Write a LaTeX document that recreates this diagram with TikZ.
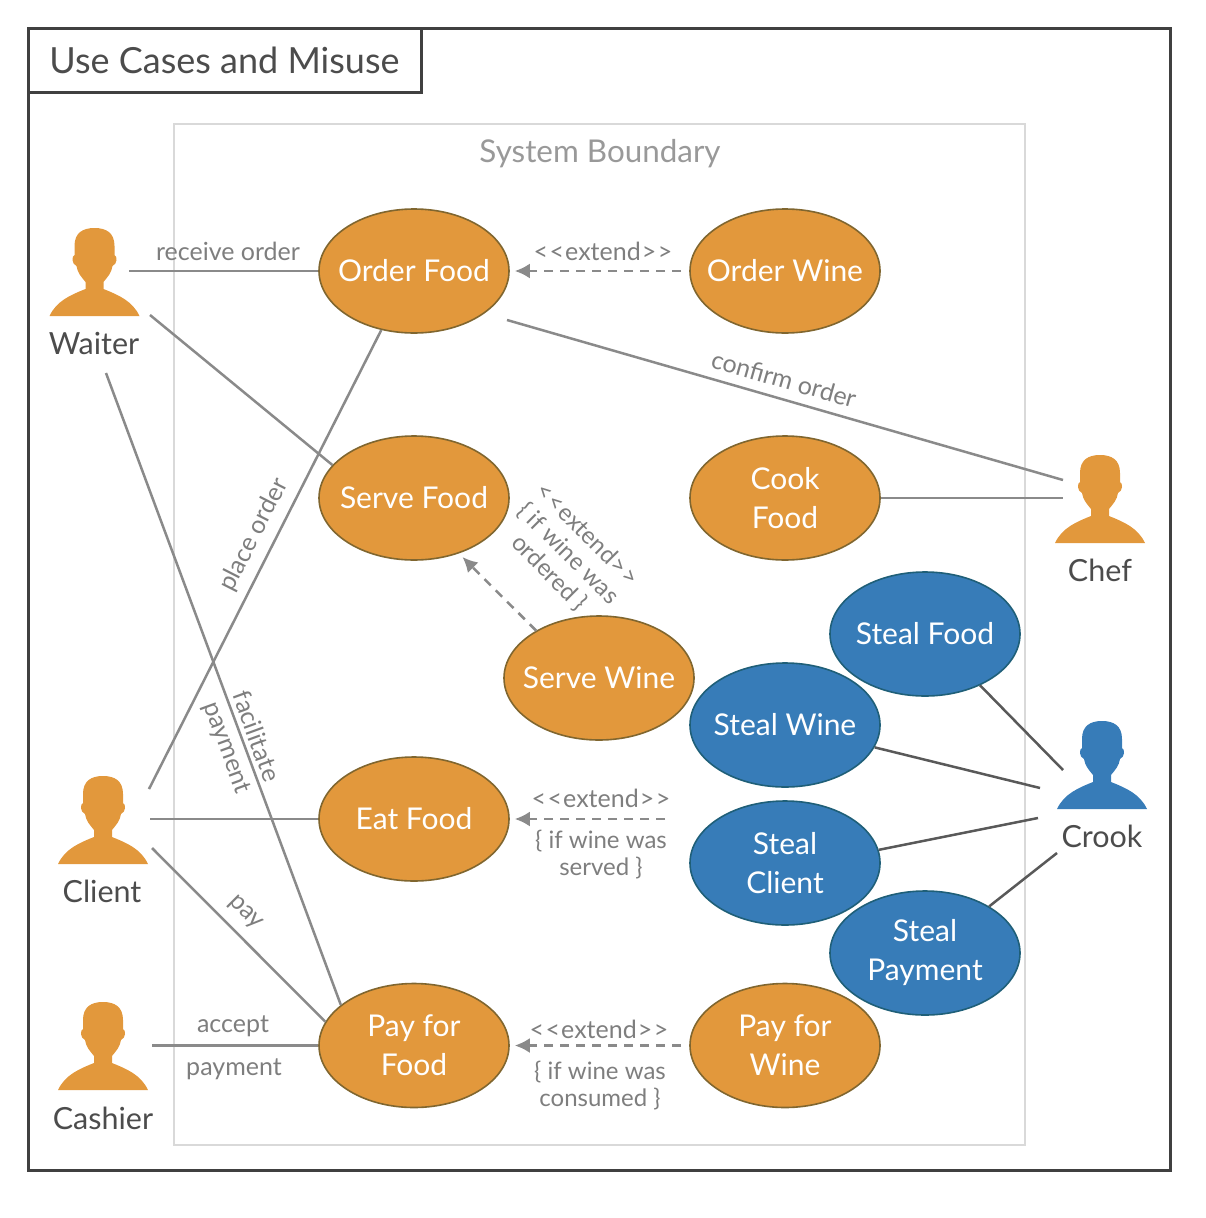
\documentclass[tikz,border=0pt]{standalone}
\usepackage{fontspec}
\setmainfont{Lato}
\usetikzlibrary{shapes.geometric,arrows.meta}
\definecolor{foodorange}{HTML}{E2983C}
\definecolor{foodedge}{HTML}{80662F}
\definecolor{crookblue}{HTML}{377CB8}
\definecolor{crookedge}{HTML}{1F5F78}
\definecolor{linegray}{HTML}{8A8A8A}
\definecolor{textgray}{HTML}{7E7E7E}
\tikzset{
  usecase/.style={ellipse,draw=foodedge,fill=foodorange,line width=1.6pt,minimum width=190pt,minimum height=124pt,inner sep=-12pt,
    text=white,font=\fontsize{30}{39}\selectfont,align=center},
  stealcase/.style={usecase,draw=crookedge,fill=crookblue},
  link/.style={draw=linegray,line width=2.5pt},
  crooklink/.style={draw=black!65,line width=2.5pt},
  extendlink/.style={draw=linegray,line width=2.5pt,dash pattern=on 9pt off 7pt,-{Latex[length=15pt,width=15pt]},shorten >=5pt},
  caption/.style={text=textgray,font=\fontsize{25}{27}\selectfont,align=center,inner sep=0pt},
  ifnote/.style={caption,font=\fontsize{24}{27}\selectfont},
  actorname/.style={text=black!70,font=\fontsize{30.5}{36}\selectfont,inner sep=0pt},
  person/.pic={
    \fill[pic actions] (-45,88) .. controls (-38,73) and (-24,67) .. (-9,61) -- (-9,54)
      .. controls (-13,49) and (-17,45) .. (-18,38) .. controls (-23,36) and (-23,28) .. (-20,27)
      -- (-20,18) .. controls (-20,5) and (-12,0) .. (0,0) .. controls (12,0) and (20,5) .. (20,18)
      -- (20,27) .. controls (23,28) and (23,36) .. (18,38) .. controls (17,45) and (13,49) .. (9,54)
      -- (9,61) .. controls (24,67) and (38,73) .. (45,88) -- cycle;
  }
}
\newcommand{\xtend}{<\kern1.5pt<\kern1pt extend\kern1pt>\kern1.5pt>}
\begin{document}
\begin{tikzpicture}[x=1pt,y=-1pt]
\useasboundingbox (0,0) rectangle (1206,1218);

% frame
\draw[black!75,line width=3pt] (28,28) rectangle (1170,1170);
\node[draw=black!75,line width=3pt,minimum width=393pt,minimum height=64pt,inner sep=0pt,text=black!70,font=\fontsize{36}{40}\selectfont] (title) at (224.5,60) {Use Cases and Misuse};
\draw[black!15,line width=2.5pt] (174,124) rectangle (1025,1145);
\node[text=black!40,font=\fontsize{31.4}{36}\selectfont,inner sep=0pt] (boundary) at (600,154) {System Boundary};

% actors
\pic[fill=foodorange] at (94.5,228) {person};
\pic[fill=foodorange] at (103,776) {person};
\pic[fill=foodorange] at (103,1002) {person};
\pic[fill=foodorange] at (1100,455) {person};
\pic[fill=crookblue] at (1102,721) {person};
\node[actorname] (waiter) at (94,343) {Waiter};
\node[actorname] (client) at (102,891) {Client};
\node[actorname] (cashier) at (103,1118) {Cashier};
\node[actorname] (chef) at (1100,570) {Chef};
\node[actorname] (crook) at (1102,836) {Crook};

% connector ends at the actors
\coordinate (waiterA) at (129,271);
\coordinate (waiterB) at (150,315);
\coordinate (waiterC) at (106,373);
\coordinate (clientA) at (149,789);
\coordinate (clientB) at (150,819);
\coordinate (clientC) at (152,848);
\coordinate (cashierA) at (152,1045.5);
\coordinate (chefA) at (1063,480);
\coordinate (chefB) at (1063,498);
\coordinate (crookA) at (1063,770);
\coordinate (crookB) at (1040,788);
\coordinate (crookC) at (1038,818);
\coordinate (crookD) at (1057,853);
\coordinate (eatIf) at (665,819);
\coordinate (confirmEnd) at (507,320);

% use cases
\node[usecase] (orderfood) at (414,271) {Order Food};
\node[usecase] (orderwine) at (785,271) {Order Wine};
\node[usecase] (servefood) at (414,498) {Serve Food};
\node[usecase] (cookfood) at (785,498) {Cook\\Food};
\node[usecase] (servewine) at (599,678) {Serve Wine};
\node[usecase] (eatfood) at (414,819) {Eat Food};
\node[usecase] (payfood) at (414,1045.5) {Pay for\\Food};
\node[usecase] (paywine) at (785,1045.5) {Pay for\\Wine};
\node[stealcase] (stealfood) at (925,634) {Steal Food};
\node[stealcase] (stealwine) at (785,725) {Steal Wine};
\node[stealcase] (stealclient) at (785,863) {Steal\\Client};
\node[stealcase] (stealpay) at (925,953) {Steal\\Payment};

% plain links
\draw[link] (waiterA) -- (orderfood.west);
\draw[link] (waiterB) -- (servefood.158);
\draw[link] (waiterC) -- (payfood.151);
\draw[link] (clientA) -- (orderfood.241);
\draw[link] (clientB) -- (eatfood.west);
\draw[link] (clientC) -- (payfood.165);
\draw[link] (cashierA) -- (payfood.west);
\draw[link] (confirmEnd) -- (chefA);
\draw[link] (cookfood.east) -- (chefB);
\draw[crooklink] (stealfood.-43) -- (crookA);
\draw[crooklink] (stealwine.-14) -- (crookB);
\draw[crooklink] (stealclient.8) -- (crookC);
\draw[crooklink] (stealpay.36) -- (crookD);

% extend links
\draw[extendlink,shorten <=8pt] (orderwine.west) -- (orderfood.east);
\draw[extendlink] (servewine.143) -- (servefood.-51);
\draw[extendlink] (eatIf) -- (eatfood.east);
\draw[extendlink,shorten <=8pt] (paywine.west) -- (payfood.east);

% labels
\node[caption] (lreceive) at (228,251) {receive order};
\node[caption,rotate=-16] (lconfirm) at (784,379) {confirm order};
\node[caption,rotate=63] (lplace) at (254,535) {place order};
\node[caption,rotate=-70] (lfacilitate) at (257,736) {facilitate};
\node[caption,rotate=-70] (lpayment) at (226,748) {payment};
\node[caption,rotate=-45] (lpay) at (245,913) {pay};
\node[caption] (laccept) at (233,1026) {accept};
\node[caption] (lcashpay) at (234,1069) {payment};
\node[caption] (lextendA) at (603,251) {\xtend};
\node[ifnote,rotate=-45] (lextendB) at (568,554) {\xtend\\\{ if wine was\\ordered \}};
\node[caption] (lextendC) at (601,798) {\xtend};
\node[ifnote] (lifC) at (601,855) {\{ if wine was\\served \}};
\node[caption] (lextendD) at (599,1029) {\xtend};
\node[ifnote] (lifD) at (600,1086) {\{ if wine was\\consumed \}};
\end{tikzpicture}
\end{document}
